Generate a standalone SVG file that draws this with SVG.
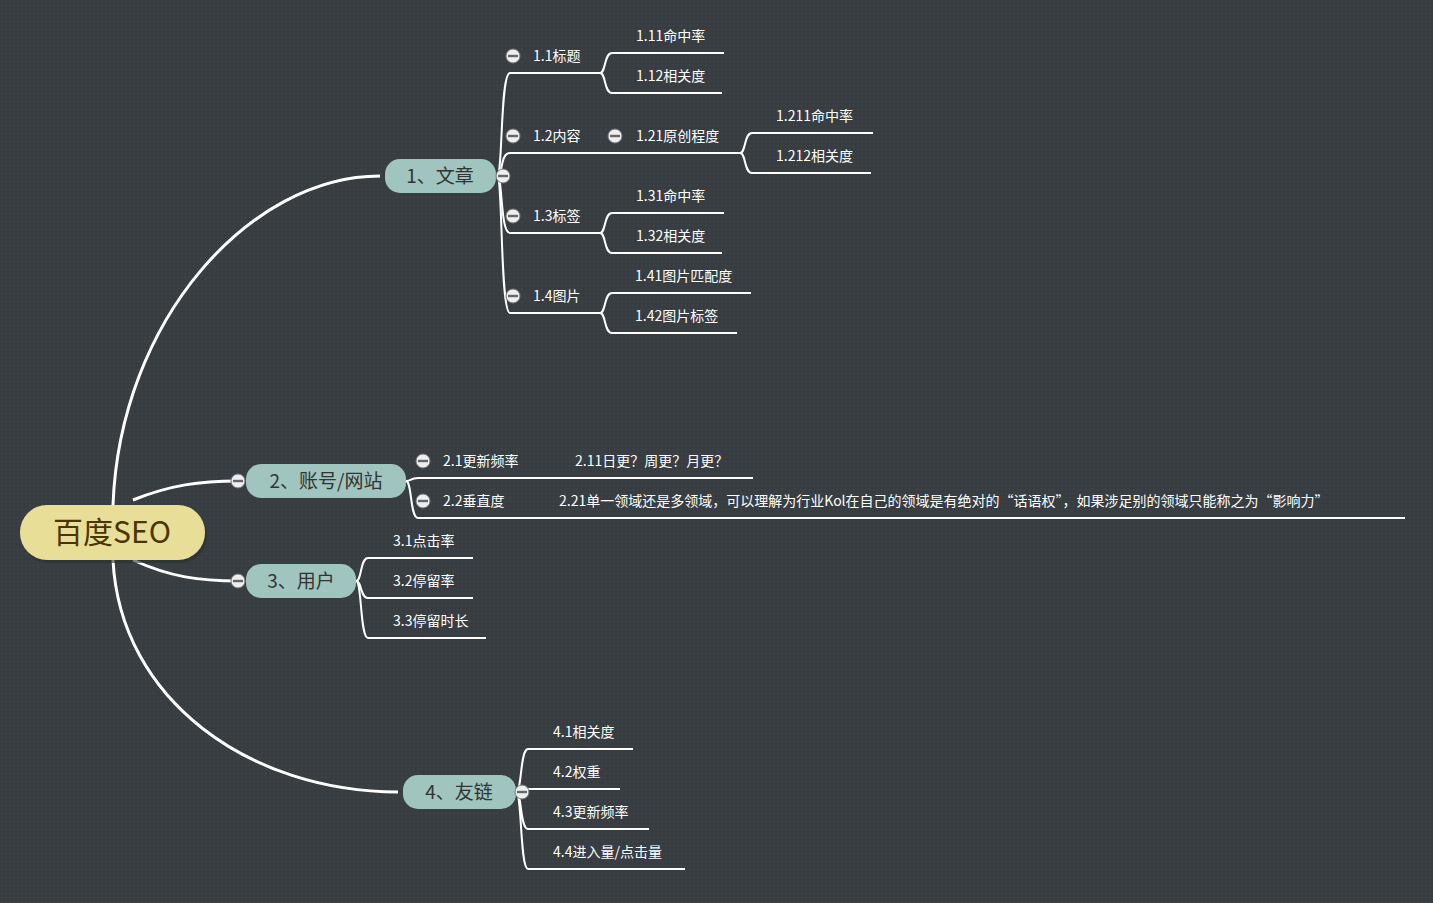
<svg xmlns="http://www.w3.org/2000/svg" width="1433" height="903" viewBox="0 0 1433 903">
<defs>
<pattern id="dots" width="4" height="4" patternUnits="userSpaceOnUse"><rect width="4" height="4" fill="#373d41"/><rect x="1" y="1" width="1" height="1" fill="#434a4f"/></pattern>
<g id="minus"><circle r="7" fill="#eee" stroke="#777" stroke-width="1"/><rect x="-5" y="-1.2" width="10" height="2.4" fill="#666"/></g>
</defs>
<style>
.c{fill:none;stroke:#fff;stroke-width:2}
.m{fill:none;stroke:#fff;stroke-width:3}
.t{font-family:"Microsoft YaHei","Noto Sans CJK SC",sans-serif;font-size:14px;fill:#fff}
.n{font-family:"Noto Sans CJK SC",sans-serif;font-size:19px;fill:#333;text-anchor:middle}
.nd{fill:#a0c4be}
</style>
<rect width="1433" height="903" fill="url(#dots)"/>
<g id="connectors">
<path class="m" d="M113,505 C120,320 250,176 380,176"/>
<path class="m" d="M133,500 C170,485 200,481 238,481"/>
<path class="m" d="M133,560 C170,577 200,581 238,581"/>
<path class="m" d="M113,560 C120,700 250,792 398,792"/>
<path class="c" d="M497,176 C503,176 500,73 510,73 H600 C606,73 604,53 612,53 H724 M600,73 C606,73 604,93 612,93 H722"/>
<path class="c" d="M497,176 C503,176 500,153 510,153 H740 C746,153 744,133 752,133 H873 M740,153 C746,153 744,173 752,173 H871"/>
<path class="c" d="M497,176 C503,176 500,233 510,233 H600 C606,233 604,213 612,213 H724 M600,233 C606,233 604,253 612,253 H722"/>
<path class="c" d="M497,176 C503,176 500,313 510,313 H600 C606,313 604,293 612,293 H751 M600,313 C606,313 604,333 612,333 H737"/>
<path class="c" d="M406,481 C412,481 410,478 418,478 H753 M406,481 C412,481 410,518 418,518 H1405"/>
<path class="c" d="M356,581 C362,581 360,558 368,558 H473 M356,581 C362,581 360,598 368,598 H473 M356,581 C362,581 360,638 368,638 H486"/>
<path class="c" d="M516,792 C522,792 520,749 528,749 H633 M516,792 C522,792 520,789 528,789 H620 M516,792 C522,792 520,829 528,829 H649 M516,792 C522,792 520,869 528,869 H685"/>
</g>
<g id="root"><rect x="22" y="508" width="185" height="55" rx="27" fill="#2a2f33" opacity="0.6"/><rect x="20" y="505" width="185" height="55" rx="27" fill="#e8de98"/><text x="112" y="543" font-family="Noto Sans CJK SC,sans-serif" font-size="30" fill="#4a3500" text-anchor="middle">百度SEO</text></g>
<g id="n1"><rect x="385" y="159" width="111" height="34" rx="15" class="nd"/><text class="n" x="440" y="183">1、文章</text><use href="#minus" x="503" y="176"/></g>
<g id="n2"><rect x="246" y="464" width="160" height="34" rx="15" class="nd"/><text class="n" x="326" y="488">2、账号/网站</text><use href="#minus" x="238" y="481"/></g>
<g id="n3"><rect x="246" y="564" width="110" height="34" rx="15" class="nd"/><text class="n" x="301" y="588">3、用户</text><use href="#minus" x="238" y="581"/></g>
<g id="n4"><rect x="403" y="775" width="113" height="34" rx="15" class="nd"/><text class="n" x="459" y="799">4、友链</text><use href="#minus" x="522" y="792"/></g>
<g id="n11"><use href="#minus" x="513" y="56"/><text class="t" x="533" y="61">1.1标题</text></g>
<g id="n111"><text class="t" x="636" y="41">1.11命中率</text></g>
<g id="n112"><text class="t" x="636" y="81">1.12相关度</text></g>
<g id="n12"><use href="#minus" x="513" y="136"/><text class="t" x="533" y="141">1.2内容</text></g>
<g id="n121"><use href="#minus" x="615" y="136"/><text class="t" x="636" y="141">1.21原创程度</text></g>
<g id="n1211"><text class="t" x="776" y="121">1.211命中率</text></g>
<g id="n1212"><text class="t" x="776" y="161">1.212相关度</text></g>
<g id="n13"><use href="#minus" x="513" y="216"/><text class="t" x="533" y="221">1.3标签</text></g>
<g id="n131"><text class="t" x="636" y="201">1.31命中率</text></g>
<g id="n132"><text class="t" x="636" y="241">1.32相关度</text></g>
<g id="n14"><use href="#minus" x="513" y="296"/><text class="t" x="533" y="301">1.4图片</text></g>
<g id="n141"><text class="t" x="635" y="281">1.41图片匹配度</text></g>
<g id="n142"><text class="t" x="635" y="321">1.42图片标签</text></g>
<g id="n21"><use href="#minus" x="423" y="461"/><text class="t" x="443" y="466">2.1更新频率</text></g>
<g id="n211"><text class="t" x="575" y="466">2.11日更？周更？月更？</text></g>
<g id="n22"><use href="#minus" x="423" y="501"/><text class="t" x="443" y="506">2.2垂直度</text></g>
<g id="n221"><text class="t" x="559" y="506">2.21单一领域还是多领域，可以理解为行业Kol在自己的领域是有绝对的“话语权”，如果涉足别的领域只能称之为“影响力”</text></g>
<g id="n31"><text class="t" x="393" y="546">3.1点击率</text></g>
<g id="n32"><text class="t" x="393" y="586">3.2停留率</text></g>
<g id="n33"><text class="t" x="393" y="626">3.3停留时长</text></g>
<g id="n41"><text class="t" x="553" y="737">4.1相关度</text></g>
<g id="n42"><text class="t" x="553" y="777">4.2权重</text></g>
<g id="n43"><text class="t" x="553" y="817">4.3更新频率</text></g>
<g id="n44"><text class="t" x="553" y="857">4.4进入量/点击量</text></g>
</svg>
